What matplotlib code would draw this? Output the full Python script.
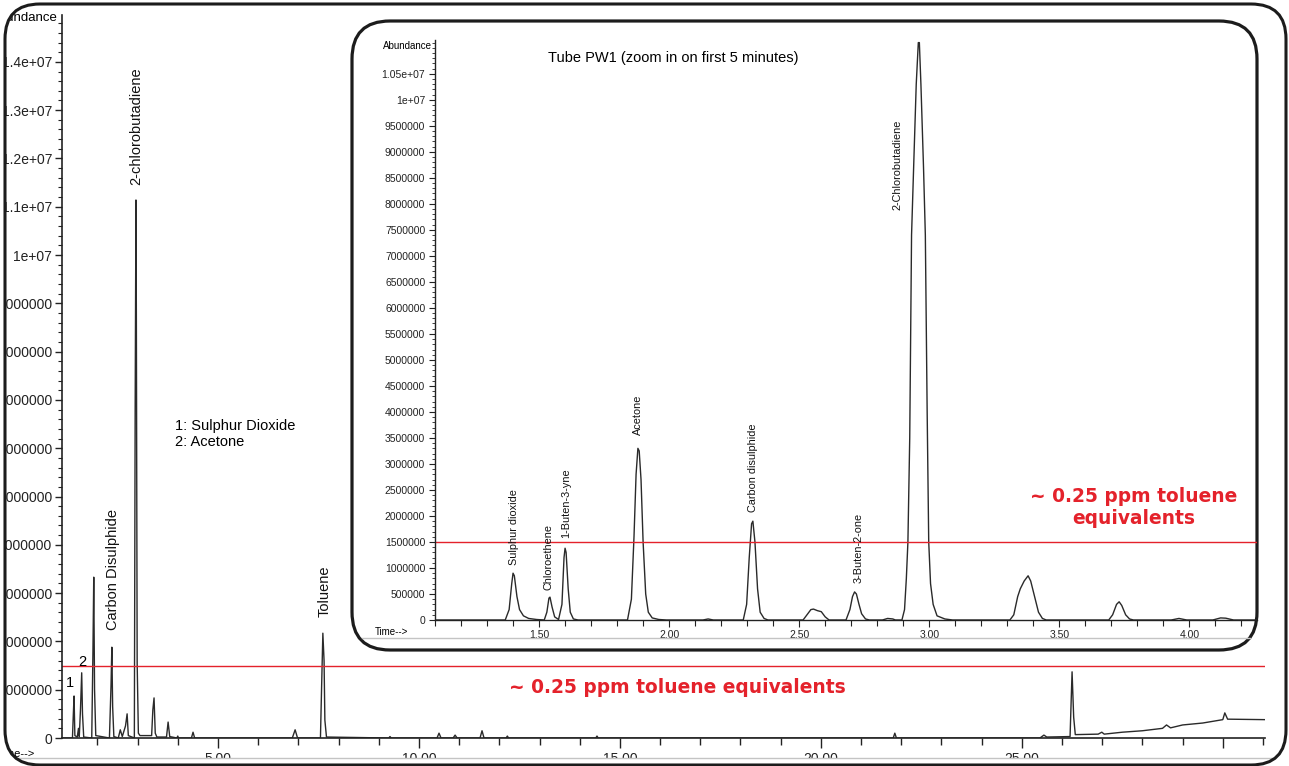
import matplotlib
matplotlib.use("Agg")
import matplotlib.pyplot as plt
import numpy as np
from matplotlib.patches import FancyBboxPatch, PathPatch, Rectangle
from matplotlib.path import Path
from matplotlib.transforms import Affine2D
from matplotlib.ticker import MultipleLocator, FixedLocator, FuncFormatter

plt.rcParams['font.family'] = ['Liberation Sans', 'DejaVu Sans']

# full run: retention time (min) and abundance (millions)
main_time = [1.12, 1.38, 1.40, 1.42, 1.44, 1.50, 1.53, 1.55, 1.58, 1.61, 1.63, 1.66,
             1.86, 1.89, 1.91, 1.93, 1.96, 2.30, 2.34, 2.36, 2.38, 2.41,
             2.52, 2.57, 2.62, 2.70, 2.74, 2.77,
             2.92, 2.94, 2.96, 2.97, 2.99, 3.02, 3.06,
             3.35, 3.38, 3.41, 3.44, 3.48, 3.72, 3.76, 3.80, 3.98, 4.00, 4.02,
             4.34, 4.38, 4.42, 6.85, 6.92, 6.98,
             7.55, 7.58, 7.61, 7.64, 7.66, 7.70,
             9.25, 9.28, 9.31, 10.45, 10.50, 10.55, 10.85, 10.90, 10.95, 11.52, 11.57, 11.62,
             12.17, 12.20, 12.23, 14.40, 14.43, 14.46, 21.80, 21.84, 21.88,
             25.45, 25.55, 25.62, 26.20, 26.25, 26.29, 26.33,
             26.90, 26.99, 27.05, 27.50, 28.00, 28.50, 28.60, 28.70, 29.00, 29.50,
             30.00, 30.05, 30.12, 31.05]
main_abund = [0, 0, 0.45, 0.87, 0.05, 0.02, 0.2, 0.03, 0.6, 1.35, 0.5, 0.02,
              0, 1.8, 3.33, 1.0, 0.05, 0, 1.1, 1.88, 0.65, 0.03,
              0, 0.17, 0.03, 0.25, 0.5, 0.05,
              0, 6.75, 11.14, 8.76, 1.55, 0.1, 0.05,
              0.05, 0.58, 0.83, 0.1, 0.02, 0.02, 0.33, 0.03, 0, 0.04, 0,
              0, 0.12, 0, 0, 0.17, 0,
              0, 1.1, 2.17, 1.6, 0.37, 0.02,
              0, 0.03, 0, 0, 0.1, 0, 0, 0.06, 0, 0, 0.15, 0,
              0, 0.04, 0, 0, 0.04, 0, 0, 0.1, 0,
              0, 0.06, 0.02, 0.03, 1.37, 0.43, 0.07,
              0.08, 0.12, 0.08, 0.12, 0.15, 0.2, 0.27, 0.21, 0.27, 0.31,
              0.38, 0.52, 0.39, 0.38]

# zoom on first minutes (inset)
ins_time = [1.10, 1.37, 1.385, 1.395, 1.40, 1.405, 1.415, 1.425, 1.44, 1.46, 1.49, 1.52,
            1.53, 1.538, 1.542, 1.55, 1.56, 1.575,
            1.588, 1.596, 1.60, 1.604, 1.612, 1.62, 1.632, 1.65,
            1.84, 1.855, 1.865, 1.873, 1.88, 1.885, 1.892, 1.90, 1.91, 1.92, 1.935, 1.96, 1.99,
            2.13, 2.15, 2.17,
            2.285, 2.298, 2.308, 2.317, 2.322, 2.33, 2.34, 2.35, 2.365, 2.38,
            2.515, 2.53, 2.545, 2.555, 2.57, 2.585, 2.60, 2.615,
            2.68, 2.695, 2.705, 2.713, 2.72, 2.73, 2.74, 2.755, 2.77,
            2.82, 2.84, 2.86, 2.87,
            2.895, 2.905, 2.912, 2.918, 2.925, 2.932, 2.94, 2.95, 2.958, 2.962,
            2.968, 2.978, 2.985, 2.992, 2.998, 3.005, 3.015, 3.03, 3.06, 3.09,
            3.31, 3.325, 3.34, 3.35, 3.365, 3.38, 3.39, 3.405, 3.42, 3.435, 3.45,
            3.69, 3.705, 3.72, 3.73, 3.74, 3.755, 3.77, 3.785,
            3.93, 3.96, 3.99,
            4.09, 4.12, 4.14, 4.17, 4.26]
ins_abund = [0, 0, 0.2, 0.7, 0.9, 0.85, 0.45, 0.2, 0.08, 0.03, 0.01, 0,
             0.15, 0.42, 0.44, 0.25, 0.06, 0.01,
             0.3, 1.2, 1.38, 1.3, 0.6, 0.15, 0.02, 0,
             0, 0.4, 1.6, 2.8, 3.3, 3.25, 2.7, 1.5, 0.5, 0.15, 0.04, 0.01, 0,
             0, 0.02, 0,
             0, 0.3, 1.2, 1.85, 1.9, 1.5, 0.6, 0.15, 0.03, 0,
             0, 0.1, 0.2, 0.21, 0.18, 0.16, 0.06, 0,
             0, 0.2, 0.45, 0.54, 0.5, 0.3, 0.12, 0.02, 0,
             0, 0.03, 0.02, 0,
             0, 0.2, 0.8, 1.5, 3.5, 7.4, 8.7, 10.3, 11.1, 11.1,
             10.3, 8.7, 7.4, 4.0, 1.5, 0.7, 0.3, 0.08, 0.02, 0,
             0, 0.1, 0.45, 0.6, 0.75, 0.85, 0.75, 0.45, 0.15, 0.03, 0,
             0, 0.1, 0.3, 0.35, 0.28, 0.1, 0.02, 0,
             0, 0.03, 0,
             0, 0.04, 0.035, 0, 0]

threshold = 1.5e6  # ~0.25 ppm toluene equivalents

main_names = ['2-chlorobutadiene', 'Carbon Disulphide', 'Toluene']
main_rt = [2.96, 2.39, 7.66]
main_xticks = [5, 10, 15, 20, 25, 30]
main_xlabels = ['5.00', '10.00', '15.00', '20.00', '25.00', '']
ins_names = ['Sulphur dioxide', 'Chloroethene', '1-Buten-3-yne', 'Acetone',
             'Carbon disulphide', '3-Buten-2-one', '2-Chlorobutadiene']
ins_rt = [1.404, 1.535, 1.604, 1.88, 2.323, 2.727, 2.877]

W, H = 1289, 766
RED = '#e4222b'
INK = '#2a2a2a'

fig = plt.figure(figsize=(W / 100, H / 100), dpi=100)
px = Affine2D().scale(1 / W, 1 / H) + fig.transFigure   # pixel coords, y up


def box(left, top, right, bottom):
    return [left / W, 1 - bottom / H, (right - left) / W, (bottom - top) / H]


def abund_fmt(v, pos):
    return f'{v:g}' if v >= 1e7 - 1 else f'{int(round(v))}'


# ---------------- main chromatogram ----------------
ax = fig.add_axes(box(62, 15, 1265, 738))
ax.set_zorder(0)
ax.plot(main_time, np.array(main_abund) * 1e6, color=INK, lw=1.0)
ax.axhline(threshold, color=RED, lw=1.0)
ax.set_xlim(1.12, 31.05)
ax.set_ylim(0, 1.497e7)
for s in ['top', 'right']:
    ax.spines[s].set_visible(False)
for s in ['left', 'bottom']:
    ax.spines[s].set_color('#222222')
    ax.spines[s].set_linewidth(1.2)
ax.yaxis.set_major_locator(MultipleLocator(1e6))
ax.yaxis.set_minor_locator(MultipleLocator(2e5))
ax.yaxis.set_major_formatter(FuncFormatter(abund_fmt))
ax.set_xticks(main_xticks)
ax.set_xticklabels(main_xlabels)
ax.xaxis.set_minor_locator(MultipleLocator(1))
ax.tick_params(axis='y', which='major', length=5, width=1, pad=2, labelsize=10, colors='#222222')
ax.tick_params(axis='y', which='minor', length=3, width=0.8, colors='#222222')
ax.tick_params(axis='x', which='major', length=7, width=1, pad=3, labelsize=10, colors='#222222')
ax.tick_params(axis='x', which='minor', length=5, width=1, colors='#222222')

for name, rt, yb in zip(main_names, main_rt, [11.45e6, 2.24e6, 2.5e6]):
    ax.text(rt, yb, name, rotation=90, ha='center', va='bottom', fontsize=10.5, color='#111111')
ax.text(1.32, 1.14e6, '1', ha='center', va='center', fontsize=10.5)
ax.text(1.62, 1.57e6, '2', ha='center', va='center', fontsize=10.5)
ax.text(3.93, 6.6e6, '1: Sulphur Dioxide\n2: Acetone', ha='left', va='top',
        fontsize=10.5, linespacing=1.15)
ax.text(16.44, 1.05e6, '~ 0.25 ppm toluene equivalents', ha='center', va='center',
        fontsize=13.4, fontweight='bold', color=RED, family='DejaVu Sans')

fig.text(58, H - 18, 'Abundance', transform=px, ha='right', va='center', fontsize=9.5)
fig.text(35, H - 754, 'Time-->', transform=px, ha='right', va='center', fontsize=8, zorder=3)

# ---------------- inset frame ----------------
inset_box = FancyBboxPatch((352, H - 650), 1257 - 352, 650 - 21,
                           boxstyle="round,pad=0,rounding_size=38", transform=px,
                           fc='white', ec='#1c1c1c', lw=2.3, zorder=2)
fig.add_artist(inset_box)

ax2 = fig.add_axes(box(435, 40, 1257, 620))
ax2.set_zorder(3)
ax2.patch.set_visible(False)
ax2.plot(ins_time, np.array(ins_abund) * 1e6, color=INK, lw=1.0)
ax2.axhline(threshold, color=RED, lw=1.0)
ax2.set_xlim(1.1, 4.26)
ax2.set_ylim(0, 1.115e7)
for s in ['top', 'right']:
    ax2.spines[s].set_visible(False)
for s in ['left', 'bottom']:
    ax2.spines[s].set_color('#222222')
    ax2.spines[s].set_linewidth(1.0)
ax2.yaxis.set_major_locator(FixedLocator(np.arange(0, 1.05e7 + 1, 5e5)))
ax2.yaxis.set_minor_locator(MultipleLocator(1e5))
ax2.yaxis.set_major_formatter(FuncFormatter(abund_fmt))
ax2.xaxis.set_major_locator(FixedLocator([1.5, 2.0, 2.5, 3.0, 3.5, 4.0]))
ax2.xaxis.set_minor_locator(MultipleLocator(0.1))
ax2.xaxis.set_major_formatter(FuncFormatter(lambda v, p: f'{v:.2f}'))
ax2.tick_params(axis='y', which='major', length=4, width=0.8, pad=3, labelsize=7.5, colors='#222222')
ax2.tick_params(axis='y', which='minor', length=2, width=0.6, colors='#222222')
ax2.tick_params(axis='x', which='major', length=5, width=0.8, pad=2, labelsize=7.5, colors='#222222')
ax2.tick_params(axis='x', which='minor', length=4, width=0.8, colors='#222222')

for name, rt, yb in zip(ins_names, ins_rt, [1.06e6, 0.58e6, 1.58e6, 3.56e6, 2.08e6, 0.71e6, 7.88e6]):
    ax2.text(rt, yb, name, rotation=90, ha='center', va='bottom', fontsize=7.8, color='#111111')
ax2.text(3.785, 2.37e6, '~ 0.25 ppm toluene', ha='center', va='center',
         fontsize=13.4, fontweight='bold', color=RED, family='DejaVu Sans')
ax2.text(3.785, 1.96e6, 'equivalents', ha='center', va='center',
         fontsize=13.4, fontweight='bold', color=RED, family='DejaVu Sans')

fig.text(548, H - 58, 'Tube PW1 (zoom in on first 5 minutes)', transform=px,
         ha='left', va='center', fontsize=10.5, zorder=4)
fig.text(432, H - 46, 'Abundance', transform=px, ha='right', va='center', fontsize=7, zorder=4)
fig.text(375, H - 632, 'Time-->', transform=px, ha='left', va='center', fontsize=7, zorder=4)
fig.add_artist(plt.Line2D([362, 1250], [H - 638, H - 638], transform=px,
                          color='#c4c4c4', lw=1.0, zorder=3.5))

# ---------------- outer frame and cropping ----------------
fig.add_artist(Rectangle((0, 0), W, H - 758, transform=px, fc='white', ec='none', zorder=4))
fig.add_artist(plt.Line2D([10, 1280], [H - 758, H - 758], transform=px,
                          color='#c4c4c4', lw=1.0, zorder=4.2))

fx, fy, fw, fh, fr = 5, 1, 1281, 761, 35
frame = FancyBboxPatch((fx, fy), fw, fh, boxstyle=f"round,pad=0,rounding_size={fr}",
                       transform=px, fc='none', ec='#1c1c1c', lw=2.2, zorder=6)
hole = frame.get_path().to_polygons()[0]
area = 0.5 * np.sum(hole[:-1, 0] * hole[1:, 1] - hole[1:, 0] * hole[:-1, 1])
if area > 0:
    hole = hole[::-1]
outer = np.array([[-5, -5], [W + 5, -5], [W + 5, H + 5], [-5, H + 5], [-5, -5]])
verts = np.concatenate([outer, hole])
codes = ([Path.MOVETO] + [Path.LINETO] * (len(outer) - 1)
         + [Path.MOVETO] + [Path.LINETO] * (len(hole) - 1))
fig.add_artist(PathPatch(Path(verts, codes), transform=px, fc='white', ec='none', zorder=5))
fig.add_artist(frame)

fig.savefig('out.png', dpi=100)
